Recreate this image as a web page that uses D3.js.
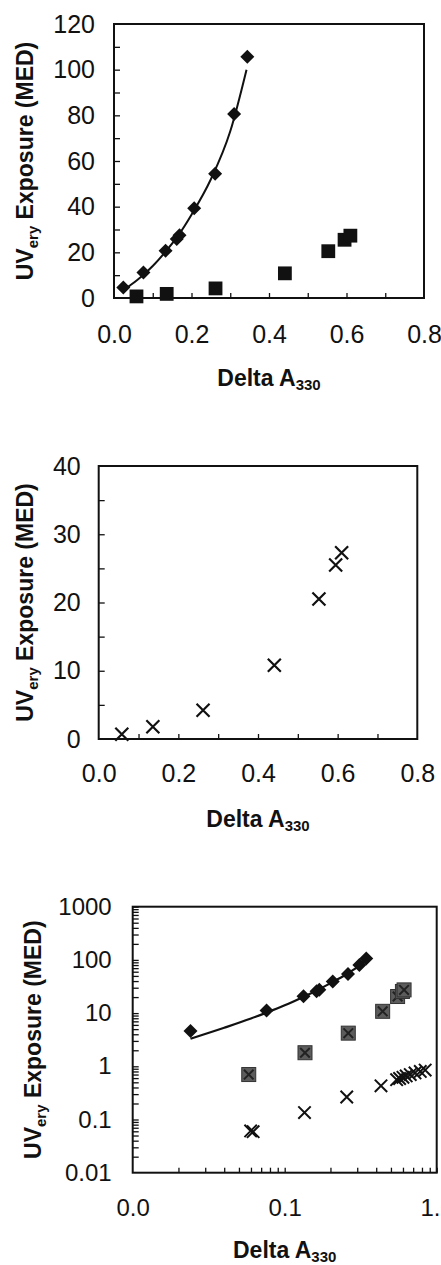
<!DOCTYPE html>
<html>
<head>
<meta charset="utf-8">
<script src="https://cdnjs.cloudflare.com/ajax/libs/d3/7.8.5/d3.min.js"></script>
<style>
body { margin: 0; background: #fff; }
text { font-family: "Liberation Sans", Arial, sans-serif; fill: #111; }
</style>
</head>
<body>
<div id="chart"></div>
<script>
// diamonds (top panel + log panel)
var diamondX = [0.024, 0.076, 0.133, 0.162, 0.169, 0.207, 0.261, 0.310, 0.344];
var diamondY = [4.6, 11.2, 20.7, 25.8, 27.5, 39.3, 54.4, 80.6, 105.7];

// fitted curve
var fitX = [0.024, 0.04, 0.06, 0.076, 0.1, 0.133, 0.165, 0.2, 0.25, 0.3, 0.342];
var fitY = [3.3, 5.3, 7.9, 10.2, 14.0, 20.3, 27.2, 36.5, 52.0, 73.0, 100.0];

// squares (top panel), crosses (middle panel), grey squares (log panel)
var squareX = [0.058, 0.136, 0.262, 0.441, 0.553, 0.595, 0.610];
var squareY = [0.7, 1.8, 4.2, 10.8, 20.5, 25.5, 27.3];

// crosses in the log panel
var crossX = [0.0597, 0.062, 0.135, 0.256, 0.43, 0.545, 0.57, 0.6, 0.63, 0.67, 0.72, 0.78, 0.84];
var crossY = [0.061, 0.059, 0.135, 0.265, 0.43, 0.56, 0.59, 0.62, 0.66, 0.7, 0.75, 0.8, 0.85];

// tick labels
var xLabelsLin = [0, 0.2, 0.4, 0.6, 0.8];
var yLabels1 = [0, 20, 40, 60, 80, 100, 120];
var yLabels2 = [0, 10, 20, 30, 40];
var xLabelsLog = [0.01, 0.1, 1];
var yLabelsLog = [0.01, 0.1, 1, 10, 100, 1000];

var svg = d3.select("#chart").append("svg")
    .attr("width", 441)
    .attr("height", 1265);

function zip(a, b) { return a.map(function(d, i) { return [d, b[i]]; }); }

function frame(g, w, h) {
  g.append("rect")
    .attr("width", w).attr("height", h)
    .attr("fill", "none").attr("stroke", "#111").attr("stroke-width", 2);
}

function titles(g, w, h, xOff, yOff) {
  var xt = g.append("text")
    .attr("x", w / 2).attr("y", h + xOff)
    .attr("text-anchor", "middle").attr("font-weight", "bold").attr("font-size", 23);
  xt.append("tspan").text("Delta A");
  xt.append("tspan").attr("font-size", 15).attr("dy", 4).text("330");

  var yt = g.append("text")
    .attr("transform", "translate(" + (-yOff) + "," + (h / 2) + ") rotate(-90)")
    .attr("text-anchor", "middle").attr("font-weight", "bold").attr("font-size", 23);
  yt.append("tspan").text("UV");
  yt.append("tspan").attr("font-size", 15).attr("dy", 5).text("ery");
  yt.append("tspan").attr("dy", -5).text(" Exposure (MED)");
}

function axes(g, x, y, h, o) {
  // minor ticks, inward
  g.append("g").attr("transform", "translate(0," + h + ")")
    .call(d3.axisBottom(x).tickValues(o.xTicks).tickSize(-5).tickFormat(""));
  g.append("g")
    .call(d3.axisLeft(y).tickValues(o.yTicks).tickSize(-6).tickFormat(""));
  // labels
  g.append("g").attr("transform", "translate(0," + h + ")")
    .call(d3.axisBottom(x).tickValues(o.xLabels).tickSize(0).tickPadding(o.xPad).tickFormat(o.xFmt))
    .attr("font-size", o.fs);
  g.append("g")
    .call(d3.axisLeft(y).tickValues(o.yLabels).tickSize(0).tickPadding(o.yPad).tickFormat(o.yFmt))
    .attr("font-size", o.fs);
  g.selectAll(".domain").remove();
  g.selectAll(".tick line").attr("stroke", "#111").attr("stroke-width", 1.3);
  g.selectAll(".tick text").attr("fill", "#111").attr("font-family", "Liberation Sans, Arial, sans-serif");
}

var diamond = d3.symbol().type(d3.symbolSquare);

function crossPath(s) {
  return "M" + (-s) + "," + (-s) + "L" + s + "," + s + "M" + (-s) + "," + s + "L" + s + "," + (-s);
}

// ---------- panel 1 ----------
var w1 = 310, h1 = 274;
var g1 = svg.append("g").attr("transform", "translate(114,24)");
var x1 = d3.scaleLinear().domain([0, 0.8]).range([0, w1]);
var y1 = d3.scaleLinear().domain([0, 120]).range([h1, 0]);

axes(g1, x1, y1, h1, {
  xTicks: d3.range(1, 8).map(function(i) { return i / 10; }),
  yTicks: d3.range(1, 12).map(function(i) { return i * 10; }),
  xLabels: xLabelsLin, yLabels: yLabels1,
  xFmt: d3.format(".1f"), yFmt: d3.format("d"),
  xPad: 27, yPad: 19, fs: 25
});

g1.append("path")
  .datum(zip(fitX, fitY))
  .attr("fill", "none").attr("stroke", "#111").attr("stroke-width", 2)
  .attr("d", d3.line().x(function(d) { return x1(d[0]); }).y(function(d) { return y1(d[1]); }).curve(d3.curveMonotoneX));

g1.selectAll(".dia").data(zip(diamondX, diamondY)).enter().append("path")
  .attr("d", diamond.size(98)())
  .attr("transform", function(d) { return "translate(" + x1(d[0]) + "," + y1(d[1]) + ") rotate(45)"; })
  .attr("fill", "#111");

g1.selectAll(".sq").data(zip(squareX, squareY)).enter().append("rect")
  .attr("x", function(d) { return x1(d[0]) - 6.9; })
  .attr("y", function(d) { return y1(d[1]) - 6.9; })
  .attr("width", 13.8).attr("height", 13.8)
  .attr("fill", "#111");

frame(g1, w1, h1);
titles(g1, w1, h1, 88, 81);

// ---------- panel 2 ----------
var w2 = 318.6, h2 = 273;
var g2 = svg.append("g").attr("transform", "translate(98.7,466)");
var x2 = d3.scaleLinear().domain([0, 0.8]).range([0, w2]);
var y2 = d3.scaleLinear().domain([0, 40]).range([h2, 0]);

axes(g2, x2, y2, h2, {
  xTicks: d3.range(1, 8).map(function(i) { return i / 10; }),
  yTicks: d3.range(1, 8).map(function(i) { return i * 5; }),
  xLabels: xLabelsLin, yLabels: yLabels2,
  xFmt: d3.format(".1f"), yFmt: d3.format("d"),
  xPad: 25, yPad: 18, fs: 25
});

g2.selectAll(".x").data(zip(squareX, squareY)).enter().append("path")
  .attr("d", crossPath(6.5))
  .attr("transform", function(d) { return "translate(" + x2(d[0]) + "," + y2(d[1]) + ")"; })
  .attr("stroke", "#111").attr("stroke-width", 2.2).attr("fill", "none");

frame(g2, w2, h2);
titles(g2, w2, h2, 87.7, 65.7);

// ---------- panel 3 (log-log) ----------
var w3 = 304, h3 = 266;
var g3 = svg.append("g").attr("transform", "translate(132.7,906.7)");
var x3 = d3.scaleLog().domain([0.01, 1]).range([0, w3]);
var y3 = d3.scaleLog().domain([0.01, 1000]).range([h3, 0]);

var minorX = [], minorY = [];
[0.01, 0.1].forEach(function(dec) { d3.range(2, 11).forEach(function(k) { minorX.push(dec * k); }); });
[0.01, 0.1, 1, 10, 100].forEach(function(dec) { d3.range(2, 11).forEach(function(k) { minorY.push(dec * k); }); });

axes(g3, x3, y3, h3, {
  xTicks: minorX, yTicks: minorY,
  xLabels: xLabelsLog, yLabels: yLabelsLog,
  xFmt: d3.format(".1f"), yFmt: d3.format("~g"),
  xPad: 26, yPad: 21, fs: 24
});

g3.append("path")
  .datum(zip(fitX, fitY))
  .attr("fill", "none").attr("stroke", "#111").attr("stroke-width", 2.2)
  .attr("d", d3.line().x(function(d) { return x3(d[0]); }).y(function(d) { return y3(d[1]); }).curve(d3.curveMonotoneX));

g3.selectAll(".dia").data(zip(diamondX, diamondY)).enter().append("path")
  .attr("d", diamond.size(98)())
  .attr("transform", function(d) { return "translate(" + x3(d[0]) + "," + y3(d[1]) + ") rotate(45)"; })
  .attr("fill", "#111");

var sq3 = g3.selectAll(".sq").data(zip(squareX, squareY)).enter().append("g")
  .attr("transform", function(d) { return "translate(" + x3(d[0]) + "," + y3(d[1]) + ")"; });
sq3.append("rect")
  .attr("x", -7).attr("y", -7).attr("width", 14).attr("height", 14)
  .attr("fill", "#5c5c5c").attr("stroke", "#333").attr("stroke-width", 1);
sq3.append("path")
  .attr("d", crossPath(4.8))
  .attr("stroke", "#222").attr("stroke-width", 2).attr("fill", "none");

g3.selectAll(".x").data(zip(crossX, crossY)).enter().append("path")
  .attr("d", crossPath(6.2))
  .attr("transform", function(d) { return "translate(" + x3(d[0]) + "," + y3(d[1]) + ")"; })
  .attr("stroke", "#111").attr("stroke-width", 2).attr("fill", "none");

frame(g3, w3, h3);
titles(g3, w3, h3, 85, 91.7);
</script>
</body>
</html>
